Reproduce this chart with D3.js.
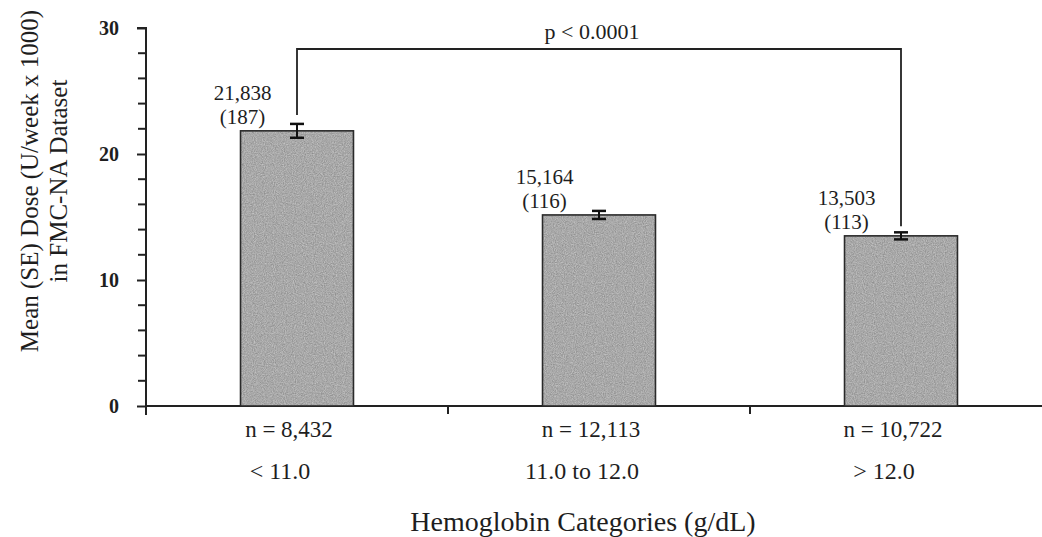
<!DOCTYPE html>
<html>
<head>
<meta charset="utf-8">
<script src="https://cdn.jsdelivr.net/npm/d3@7"></script>
<style>
  body { margin: 0; background: #fff; }
  text { font-family: "Liberation Serif", "Times New Roman", serif; fill: #1e1e1e; }
</style>
</head>
<body>
<script>
// data
let categories = ["< 11.0", "11.0 to 12.0", "> 12.0"];
let nLabels = ["n = 8,432", "n = 12,113", "n = 10,722"];
let means = [21.838, 15.164, 13.503];        // U/week x 1000
let meanLabels = ["21,838", "15,164", "13,503"];
let seLabels = ["(187)", "(116)", "(113)"];
let errHalf = [0.55, 0.32, 0.28];           // drawn error bar half-height
let yTicks = [0, 10, 20, 30];
let yMinor = [2, 4, 6, 8, 12, 14, 16, 18, 22, 24, 26, 28];

let w = 1042, h = 537;
let axisX = 146;

let svg = d3.select("body").append("svg")
    .attr("width", w)
    .attr("height", h);

// grainy grey like the printed bars
let defs = svg.append("defs");
let grain = defs.append("filter").attr("id", "grain")
    .attr("x", 0).attr("y", 0).attr("width", 1).attr("height", 1)
    .attr("color-interpolation-filters", "sRGB");
grain.append("feTurbulence")
    .attr("type", "fractalNoise").attr("baseFrequency", 0.9)
    .attr("numOctaves", 2).attr("seed", 4).attr("result", "noise");
grain.append("feColorMatrix").attr("in", "noise").attr("type", "matrix")
    .attr("values", "0.28 0 0 0 0.52  0.28 0 0 0 0.52  0.28 0 0 0 0.52  0 0 0 0 1")
    .attr("result", "grey");
grain.append("feComposite").attr("in", "grey").attr("in2", "SourceGraphic").attr("operator", "in");

let xScale = d3.scaleBand()
    .domain(categories)
    .range([axisX, axisX + 906])
    .paddingInner(0.626)
    .paddingOuter(0.313);

let yScale = d3.scaleLinear()
    .domain([0, 30])
    .range([406, 28]);

// minor ticks on y axis
svg.append("g").selectAll("line")
    .data(yMinor)
    .enter().append("line")
    .attr("x1", axisX - 8).attr("x2", axisX)
    .attr("y1", d => yScale(d)).attr("y2", d => yScale(d))
    .style("stroke", "#222")
    .style("stroke-width", "2px");

// y axis
let yAxis = d3.axisLeft(yScale)
    .tickValues(yTicks)
    .tickSize(9)
    .tickPadding(18);

let gy = svg.append("g")
    .attr("transform", "translate(" + axisX + ",0)")
    .call(yAxis);
gy.select(".domain").attr("stroke", "#222").attr("stroke-width", 2)
    .attr("d", "M-9," + yScale(30) + "H0V" + (yScale(0) + 9));
gy.selectAll(".tick line").attr("stroke", "#222").attr("stroke-width", 2);
gy.selectAll(".tick text")
    .style("font-size", "20px")
    .style("font-weight", "bold")
    .style("font-family", "Liberation Serif, serif")
    .attr("fill", "#1e1e1e");

// x axis line and category separators
svg.append("line")
    .attr("x1", axisX).attr("x2", w)
    .attr("y1", yScale(0)).attr("y2", yScale(0))
    .attr("stroke", "#222").attr("stroke-width", 2);

let step = xScale.step();
svg.selectAll(".sep")
    .data(categories.slice(1))
    .enter().append("line")
    .attr("x1", d => xScale(d) + xScale.bandwidth() / 2 - step / 2)
    .attr("x2", d => xScale(d) + xScale.bandwidth() / 2 - step / 2)
    .attr("y1", yScale(0)).attr("y2", yScale(0) + 8)
    .attr("stroke", "#222").attr("stroke-width", 2);

// bars: grain fill, then outline
let bars = svg.selectAll(".bar")
    .data(means)
    .enter().append("g");
bars.append("rect")
    .attr("x", (d, i) => xScale(categories[i]))
    .attr("y", d => yScale(d))
    .attr("width", xScale.bandwidth())
    .attr("height", d => yScale(0) - yScale(d))
    .attr("fill", "#a8a8a8")
    .attr("filter", "url(#grain)");
bars.append("rect")
    .attr("x", (d, i) => xScale(categories[i]))
    .attr("y", d => yScale(d))
    .attr("width", xScale.bandwidth())
    .attr("height", d => yScale(0) - yScale(d))
    .attr("fill", "none")
    .attr("stroke", "#2a2a2a")
    .attr("stroke-width", 1.6);

// error bars
let cx = i => xScale(categories[i]) + xScale.bandwidth() / 2;
let eb = svg.selectAll(".err")
    .data(means)
    .enter().append("g");
eb.append("line")
    .attr("x1", (d, i) => cx(i)).attr("x2", (d, i) => cx(i))
    .attr("y1", (d, i) => yScale(d + errHalf[i]))
    .attr("y2", (d, i) => yScale(d - errHalf[i]))
    .attr("stroke", "#111").attr("stroke-width", 2);
eb.append("line")
    .attr("x1", (d, i) => cx(i) - 7).attr("x2", (d, i) => cx(i) + 7)
    .attr("y1", (d, i) => yScale(d + errHalf[i]))
    .attr("y2", (d, i) => yScale(d + errHalf[i]))
    .attr("stroke", "#111").attr("stroke-width", 2.5);
eb.append("line")
    .attr("x1", (d, i) => cx(i) - 7).attr("x2", (d, i) => cx(i) + 7)
    .attr("y1", (d, i) => yScale(d - errHalf[i]))
    .attr("y2", (d, i) => yScale(d - errHalf[i]))
    .attr("stroke", "#111").attr("stroke-width", 2.5);

// value labels
svg.selectAll(".vlab")
    .data(meanLabels)
    .enter().append("text")
    .attr("x", (d, i) => xScale(categories[i]) + 2)
    .attr("y", (d, i) => yScale(means[i]) - 31)
    .attr("text-anchor", "middle")
    .style("font-size", "21px")
    .text(d => d);
svg.selectAll(".selab")
    .data(seLabels)
    .enter().append("text")
    .attr("x", (d, i) => xScale(categories[i]) + 2)
    .attr("y", (d, i) => yScale(means[i]) - 7)
    .attr("text-anchor", "middle")
    .style("font-size", "21px")
    .text(d => d);

// n labels and categories
svg.selectAll(".nlab")
    .data(nLabels)
    .enter().append("text")
    .attr("x", (d, i) => cx(i) - 8)
    .attr("y", 437)
    .attr("text-anchor", "middle")
    .style("font-size", "23px")
    .text(d => d);
svg.selectAll(".clab")
    .data(categories)
    .enter().append("text")
    .attr("x", (d, i) => cx(i) - 17)
    .attr("y", 479)
    .attr("text-anchor", "middle")
    .style("font-size", "24px")
    .text(d => d);

// significance bracket
let topY = 49;
svg.append("path")
    .attr("d", "M" + cx(0) + "," + (yScale(means[0] + errHalf[0]) - 9) +
               "V" + topY + "H" + cx(2) +
               "V" + (yScale(means[2] + errHalf[2]) - 6))
    .attr("fill", "none")
    .attr("stroke", "#222")
    .attr("stroke-width", 1.8);
svg.append("text")
    .attr("x", 592)
    .attr("y", 39)
    .attr("text-anchor", "middle")
    .style("font-size", "22px")
    .text("p < 0.0001");

// axis titles
svg.append("text")
    .attr("x", 583)
    .attr("y", 531)
    .attr("text-anchor", "middle")
    .style("font-size", "28px")
    .text("Hemoglobin Categories (g/dL)");

let yTitle = svg.append("text")
    .attr("transform", "translate(0,181) rotate(-90)")
    .attr("text-anchor", "middle")
    .style("font-size", "25px");
yTitle.append("tspan").attr("x", 0).attr("y", 38).text("Mean (SE) Dose (U/week x 1000)");
yTitle.append("tspan").attr("x", 0).attr("y", 67).text("in FMC-NA Dataset");
</script>
</body>
</html>
